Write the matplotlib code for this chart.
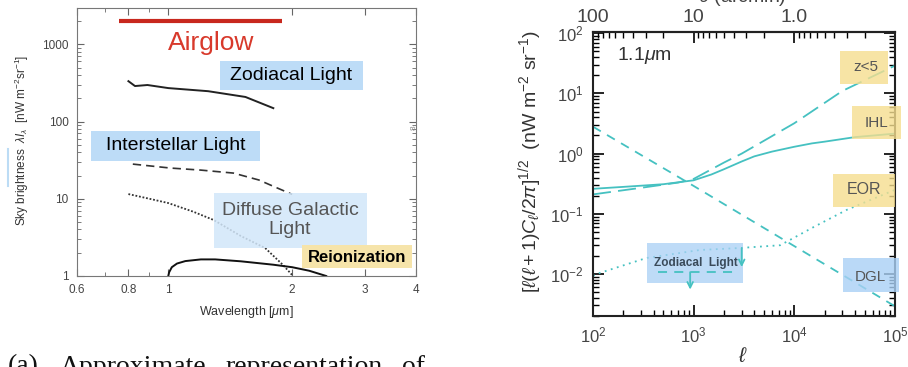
import numpy as np
import matplotlib.pyplot as plt
from matplotlib.patches import Rectangle
from matplotlib.lines import Line2D
from matplotlib.ticker import FixedLocator, NullFormatter, LogLocator

plt.rcParams['font.family'] = ['Liberation Sans', 'DejaVu Sans']
plt.rcParams['mathtext.fontset'] = 'custom'
plt.rcParams['mathtext.rm'] = 'Liberation Sans'
plt.rcParams['mathtext.it'] = 'Liberation Sans:italic'
plt.rcParams['mathtext.bf'] = 'Liberation Sans:bold'

# --- (a) sky brightness vs wavelength ---
airglow_wl = [0.76, 1.89]
airglow_sb = [2000, 2000]

zodi_wl = [0.80, 0.83, 0.89, 1.0, 1.25, 1.54, 1.80]
zodi_sb = [333, 288, 297, 271, 247, 208, 149]

isl_wl = [0.82, 1.01, 1.20, 1.44, 1.66, 1.80, 2.0]
isl_sb = [28.1, 25.0, 23.5, 21.5, 17.5, 14.5, 11.4]

dgl_wl = [0.80, 0.90, 1.0, 1.15, 1.29, 1.50, 1.72, 1.90, 2.01]
dgl_sb = [11.5, 10.0, 8.8, 6.8, 5.3, 3.3, 2.3, 1.39, 1.0]

reion_wl = [1.0, 1.005, 1.02, 1.05, 1.1, 1.2, 1.3, 1.5, 1.8, 2.0, 2.2, 2.42]
reion_sb = [1.0, 1.12, 1.3, 1.45, 1.56, 1.64, 1.64, 1.55, 1.4, 1.3, 1.17, 1.0]

wl_ticks = [0.6, 0.8, 1, 2, 3, 4]
wl_ticklabels = ['0.6', '0.8', '1', '2', '3', '4']
sb_ticks = [1, 10, 100, 1000]
sb_ticklabels = ['1', '10', '100', '1000']

# --- (b) fluctuation spectra at 1.1 um ---
ell_ihl = [100, 200, 500, 1000, 1500, 2000, 3000, 4000, 6000, 10000, 15000,
           20000, 40000, 100000]
ihl = [0.26, 0.28, 0.31, 0.36, 0.45, 0.55, 0.74, 0.90, 1.08, 1.30, 1.48,
       1.58, 1.88, 2.15]

ell_z5 = [100, 300, 700, 1000, 2000, 3000, 10000, 30000, 100000]
z5 = [0.21, 0.27, 0.33, 0.38, 0.71, 1.0, 3.2, 11.0, 29.0]

ell_dgl = [100, 1000, 10000, 100000]
dgl = [2.8, 0.29, 0.029, 0.0029]

ell_eor = [100, 117, 339, 1150, 2880, 7240, 15500, 33100, 72400, 100000]
eor = [0.0093, 0.0104, 0.0184, 0.025, 0.027, 0.030, 0.060, 0.116, 0.20, 0.25]

ell_zodi = [444, 2460]
zodi_lim = [0.0107, 0.0107]
zodi_arrow_ell = [923, 3000]
zodi_arrow_top = [0.0107, 0.027]
zodi_arrow_bot = [0.0055, 0.013]

theta_ticks = [100, 10, 1]
theta_ticklabels = ['100', '10', '1.0']

W, H = 908, 367
fig = plt.figure(figsize=(W / 100, H / 100), dpi=100)


def fx(px):
    return px / W


def fy(py):
    return 1 - py / H


def box(ax, x0, y0, x1, y1, color, alpha=1.0, z=3):
    r = Rectangle((fx(x0), fy(y1)), fx(x1) - fx(x0), fy(y0) - fy(y1),
                  transform=fig.transFigure, facecolor=color, edgecolor='none',
                  alpha=alpha, zorder=z, clip_on=False)
    ax.add_patch(r)


# left panel
ax1 = fig.add_axes([fx(77), fy(276), fx(416) - fx(77), fy(8) - fy(276)])
ax1.set_xscale('log')
ax1.set_yscale('log')
ax1.set_xlim(0.6, 4)
ax1.set_ylim(1, 2950)

ax1.plot(airglow_wl, airglow_sb, color='#c8281e', lw=3, solid_capstyle='butt')
ax1.plot(zodi_wl, zodi_sb, color='#222222', lw=1.4)
ax1.plot(isl_wl, isl_sb, color='#333333', lw=1.2, dashes=(5, 3))
ax1.plot(dgl_wl, dgl_sb, color='#333333', lw=1.3, linestyle=(0, (1, 1)))
ax1.plot(reion_wl, reion_sb, color='#111111', lw=1.4)

ax1.xaxis.set_major_locator(FixedLocator(wl_ticks))
ax1.xaxis.set_major_formatter(plt.FixedFormatter(wl_ticklabels))
ax1.xaxis.set_minor_locator(FixedLocator([0.7, 0.9]))
ax1.xaxis.set_minor_formatter(NullFormatter())
ax1.yaxis.set_major_locator(FixedLocator(sb_ticks))
ax1.yaxis.set_major_formatter(plt.FixedFormatter(sb_ticklabels))
ax1.yaxis.set_minor_locator(LogLocator(subs=range(2, 10)))
ax1.yaxis.set_minor_formatter(NullFormatter())
ax1.tick_params(which='both', direction='in', top=True, right=True,
                color='#666666', labelsize=8.5, labelcolor='#444444', pad=6)
ax1.tick_params(which='major', length=5)
ax1.tick_params(which='minor', length=3)
for sp in ax1.spines.values():
    sp.set_color('#777777')

fig.text(fx(246), fy(312), r'Wavelength [$\mu$m]', ha='center', va='center',
         fontsize=9, color='#333333')
fig.text(fx(22), fy(140), r'Sky brightness  $\lambda I_\lambda$  [nW m$^{-2}$sr$^{-1}$]',
         rotation=90, ha='center', va='center', fontsize=8.5, color='#333333')
fig.add_artist(Line2D([fx(8), fx(8)], [fy(149), fy(186)], color='#bcdcf5', lw=1.5))
fig.text(fx(414), fy(128), '8', rotation=90, ha='center', va='center',
         fontsize=6, color='#888888')

fig.text(fx(211), fy(43), 'Airglow', ha='center', va='center', fontsize=19,
         color='#d8392b')
box(ax1, 220, 61, 363, 90, '#bddcf7')
fig.text(fx(291.5), fy(76), 'Zodiacal Light', ha='center', va='center',
         fontsize=14, color='black', zorder=6)
box(ax1, 91, 131, 260, 161, '#bddcf7')
fig.text(fx(175.5), fy(146), 'Interstellar Light', ha='center', va='center',
         fontsize=14, color='black', zorder=6)
box(ax1, 214, 193, 367, 248, '#d2e7fa', alpha=0.85)
fig.text(fx(290), fy(220), 'Diffuse Galactic\nLight', ha='center', va='center',
         fontsize=14, color='#555555', linespacing=1.15, zorder=6)
box(ax1, 302, 245, 412, 268, '#f6e4aa')
fig.text(fx(357), fy(257), 'Reionization', ha='center', va='center',
         fontsize=12, fontweight='bold', color='black', zorder=6)

# caption fragment below panel (a)
for word, x in [('(a)', 8), ('Approximate', 60), ('representation', 225), ('of', 402)]:
    fig.text(fx(x), fy(373.5), word, ha='left', va='baseline', fontsize=20,
             family='Liberation Serif', color='#111111')

# right panel
teal = '#45c1c1'
ax2 = fig.add_axes([fx(593), fy(316), fx(895) - fx(593), fy(32) - fy(316)])
ax2.set_xscale('log')
ax2.set_yscale('log')
ax2.set_xlim(100, 1e5)
ax2.set_ylim(2.0e-3, 105)

ax2.plot(ell_ihl, ihl, color=teal, lw=1.3)
ax2.plot(ell_z5, z5, color=teal, lw=1.3, dashes=(10, 4))
ax2.plot(ell_dgl, dgl, color=teal, lw=1.3, dashes=(5, 4))
ax2.plot(ell_eor, eor, color=teal, lw=1.3, linestyle=(0, (1, 2.5)))
ax2.plot(ell_zodi, zodi_lim, color=teal, lw=1.3, dashes=(5, 4), zorder=5)
for e, top, bot in zip(zodi_arrow_ell, zodi_arrow_top, zodi_arrow_bot):
    ax2.annotate('', xy=(e, bot), xytext=(e, top), zorder=5,
                 arrowprops=dict(arrowstyle='->', color=teal, lw=1.3,
                                 mutation_scale=10, shrinkA=0, shrinkB=0))

ax2.tick_params(which='both', direction='in', top=False, right=True,
                labelsize=12, labelcolor='#444444')
ax2.tick_params(which='major', length=8, width=1.2, pad=7)
ax2.tick_params(which='minor', length=4, width=1)
ax2.yaxis.set_minor_locator(LogLocator(subs=range(2, 10), numticks=20))
ax2.xaxis.set_minor_locator(LogLocator(subs=range(2, 10), numticks=20))
for sp in ax2.spines.values():
    sp.set_linewidth(1.5)
    sp.set_color('#222222')

sec = ax2.secondary_xaxis('top', functions=(lambda l: 1e4 / np.clip(l, 1e-9, None),
                                            lambda t: 1e4 / np.clip(t, 1e-9, None)))
sec.xaxis.set_major_locator(FixedLocator(theta_ticks))
sec.xaxis.set_major_formatter(plt.FixedFormatter(theta_ticklabels))
sec.tick_params(which='both', direction='in', labelsize=14, labelcolor='#444444')
sec.tick_params(which='major', length=8, width=1.2, pad=4)
sec.tick_params(which='minor', length=4, width=1)
sec.spines['top'].set_linewidth(1.5)

fig.text(fx(742), fy(-3), r'$\theta$ (arcmin)', ha='center', va='center',
         fontsize=14, color='#444444')
fig.text(fx(743), fy(357), r'$\ell$', ha='center', va='center', fontsize=15,
         color='#333333')
fig.text(fx(530), fy(162), r'$[\ell(\ell+1)C_\ell/2\pi]^{1/2}$  (nW m$^{-2}$ sr$^{-1}$)',
         rotation=90, ha='center', va='center', fontsize=14, color='#333333')
fig.text(fx(617), fy(55), r'1.1$\mu$m', ha='left', va='center', fontsize=14,
         color='#333333')

box(ax2, 840, 51, 888, 84, '#f5de8f', alpha=0.8)
fig.text(fx(866), fy(67), 'z<5', ha='center', va='center', fontsize=11,
         color='#555555', zorder=6)
box(ax2, 852, 106, 901, 139, '#f5de8f', alpha=0.8)
fig.text(fx(877), fy(123), 'IHL', ha='center', va='center', fontsize=11,
         color='#555555', zorder=6)
box(ax2, 833, 174, 895, 207, '#f5de8f', alpha=0.8)
fig.text(fx(864), fy(190), 'EOR', ha='center', va='center', fontsize=11.5,
         color='#555555', zorder=6)
box(ax2, 843, 258, 899, 292, '#a9d0f5', alpha=0.8)
fig.text(fx(870), fy(277), 'DGL', ha='center', va='center', fontsize=11,
         color='#555555', zorder=6)
box(ax2, 647, 243, 743, 283, '#a9d0f5', alpha=0.75)
fig.text(fx(696), fy(263), 'Zodiacal  Light', ha='center', va='center',
         fontsize=8.5, fontweight='bold', color='#3a4a5a', zorder=6)

fig.savefig('out.png', dpi=100)
